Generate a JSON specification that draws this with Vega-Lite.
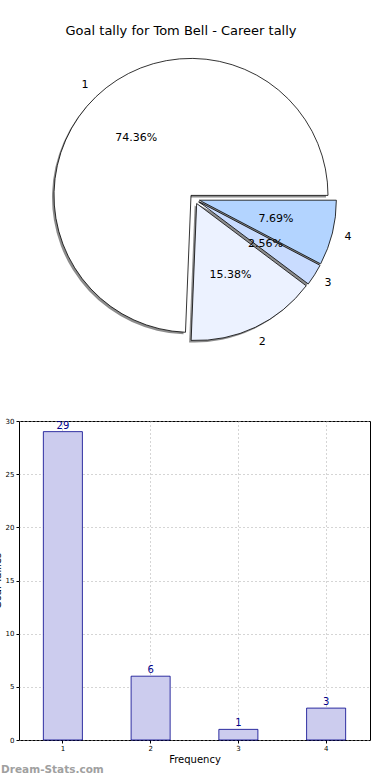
{
  "$schema": "https://vega.github.io/schema/vega-lite/v6.json",
  "padding": {"left": -9, "top": 25, "right": 0, "bottom": 0},
  "config": {"font": "DejaVu Sans", "view": {"stroke": "#000000", "strokeWidth": 1}},
  "title": {"text": "Goal tally for Tom Bell - Career tally", "fontSize": 13, "fontWeight": "normal", "color": "#000000", "anchor": "middle", "offset": 11},
  "datasets": {
    "pie": [
      {"cat": "1", "n": 29, "pct": "74.36%", "ord": 4},
      {"cat": "2", "n": 6, "pct": "15.38%", "ord": 3},
      {"cat": "3", "n": 1, "pct": "2.56%", "ord": 2},
      {"cat": "4", "n": 3, "pct": "7.69%", "ord": 1}
    ],
    "bars": [
      {"cat": "1", "n": 29},
      {"cat": "2", "n": 6},
      {"cat": "3", "n": 1},
      {"cat": "4", "n": 3}
    ]
  },
  "spacing": 67,
  "vconcat": [
    {
      "width": 351,
      "height": 300,
      "view": {"stroke": null},
      "data": {"name": "pie"},
      "transform": [{"stack": "n", "groupby": [], "sort": [{"field": "ord", "order": "ascending"}], "as": ["s0", "s1"]}],
      "layer": [
        {"transform": [{"filter": "datum.cat == '1'"}], "mark": {"type": "arc", "outerRadius": 137, "xOffset": -5.5, "yOffset": -1.6, "fill": "#666666", "opacity": 0.75}, "encoding": {"theta": {"field": "s0", "type": "quantitative", "scale": {"domain": [0, 39], "range": [1.5708, 7.854]}}, "theta2": {"field": "s1"}}},
        {"transform": [{"filter": "datum.cat == '2'"}], "mark": {"type": "arc", "outerRadius": 137, "xOffset": 0.15, "yOffset": 6.5, "fill": "#666666", "opacity": 0.75}, "encoding": {"theta": {"field": "s0", "type": "quantitative", "scale": {"domain": [0, 39], "range": [1.5708, 7.854]}}, "theta2": {"field": "s1"}}},
        {"transform": [{"filter": "datum.cat == '3'"}], "mark": {"type": "arc", "outerRadius": 137, "xOffset": 2.25, "yOffset": 4.65, "fill": "#666666", "opacity": 0.75}, "encoding": {"theta": {"field": "s0", "type": "quantitative", "scale": {"domain": [0, 39], "range": [1.5708, 7.854]}}, "theta2": {"field": "s1"}}},
        {"transform": [{"filter": "datum.cat == '4'"}], "mark": {"type": "arc", "outerRadius": 137, "xOffset": 2.85, "yOffset": 3.2, "fill": "#666666", "opacity": 0.75}, "encoding": {"theta": {"field": "s0", "type": "quantitative", "scale": {"domain": [0, 39], "range": [1.5708, 7.854]}}, "theta2": {"field": "s1"}}},
        {"transform": [{"filter": "datum.cat == '1'"}], "mark": {"type": "arc", "outerRadius": 137, "xOffset": -3.5, "yOffset": -3.6, "fill": "#ffffff", "stroke": "#000000", "strokeWidth": 0.8}, "encoding": {"theta": {"field": "s0", "type": "quantitative", "scale": {"domain": [0, 39], "range": [1.5708, 7.854]}}, "theta2": {"field": "s1"}}},
        {"transform": [{"filter": "datum.cat == '2'"}], "mark": {"type": "arc", "outerRadius": 137, "xOffset": 2.15, "yOffset": 4.5, "fill": "#ecf2ff", "stroke": "#000000", "strokeWidth": 0.8}, "encoding": {"theta": {"field": "s0", "type": "quantitative", "scale": {"domain": [0, 39], "range": [1.5708, 7.854]}}, "theta2": {"field": "s1"}}},
        {"transform": [{"filter": "datum.cat == '3'"}], "mark": {"type": "arc", "outerRadius": 137, "xOffset": 4.25, "yOffset": 2.65, "fill": "#c9dcff", "stroke": "#000000", "strokeWidth": 0.8}, "encoding": {"theta": {"field": "s0", "type": "quantitative", "scale": {"domain": [0, 39], "range": [1.5708, 7.854]}}, "theta2": {"field": "s1"}}},
        {"transform": [{"filter": "datum.cat == '4'"}], "mark": {"type": "arc", "outerRadius": 137, "xOffset": 4.85, "yOffset": 1.2, "fill": "#b3d4ff", "stroke": "#000000", "strokeWidth": 0.8}, "encoding": {"theta": {"field": "s0", "type": "quantitative", "scale": {"domain": [0, 39], "range": [1.5708, 7.854]}}, "theta2": {"field": "s1"}}},
        {"mark": {"type": "text", "radius": 84, "fontSize": 11, "color": "#000000"}, "encoding": {"theta": {"field": "n", "type": "quantitative", "stack": true, "scale": {"domain": [0, 39], "range": [1.5708, 7.854]}}, "order": {"field": "ord", "type": "quantitative"}, "text": {"field": "pct"}}},
        {"mark": {"type": "text", "radius": 158, "fontSize": 11, "color": "#000000"}, "encoding": {"theta": {"field": "n", "type": "quantitative", "stack": true, "scale": {"domain": [0, 39], "range": [1.5708, 7.854]}}, "order": {"field": "ord", "type": "quantitative"}, "text": {"field": "cat"}}}
      ]
    },
    {
      "width": 351,
      "height": 319,
      "data": {"name": "bars"},
      "title": {"text": "Dream-Stats.com", "orient": "bottom", "anchor": "start", "frame": "bounds", "fontSize": 10.5, "fontWeight": "bold", "color": "#a0a0a0", "offset": 1, "dx": 9},
      "encoding": {
        "x": {"field": "cat", "type": "nominal", "scale": {"paddingInner": 0.555, "paddingOuter": 0.2775},
          "axis": {"title": "Frequency", "labelAngle": 0, "labelFontSize": 7, "labelColor": "#000000", "titleFontSize": 10, "titleFontWeight": "normal", "titleColor": "#000000", "titlePadding": 3, "grid": true, "gridDash": [1, 3], "gridColor": "#aaaaaa", "gridOpacity": 1, "bandPosition": 0.5, "domain": false, "tickSize": 3, "tickColor": "#000000", "labelPadding": 1}},
        "y": {"field": "n", "type": "quantitative", "scale": {"domain": [0, 30]},
          "axis": {"values": [0, 5, 10, 15, 20, 25, 30], "title": "Goal Tallies", "labelFontSize": 7, "labelColor": "#000000", "titleFontSize": 10, "titleFontWeight": "normal", "titleColor": "#000000", "titlePadding": 3, "grid": true, "gridDash": [1, 3], "gridColor": "#aaaaaa", "gridOpacity": 1, "domain": false, "tickSize": 3, "tickColor": "#000000", "labelPadding": 2}}
      },
      "layer": [
        {"mark": {"type": "bar", "fill": "#ccccee", "stroke": "#00008b", "strokeWidth": 0.8}},
        {"mark": {"type": "text", "baseline": "bottom", "dy": -1, "color": "#00008b", "fontSize": 10}, "encoding": {"text": {"field": "n", "type": "quantitative"}}}
      ]
    }
  ]
}
